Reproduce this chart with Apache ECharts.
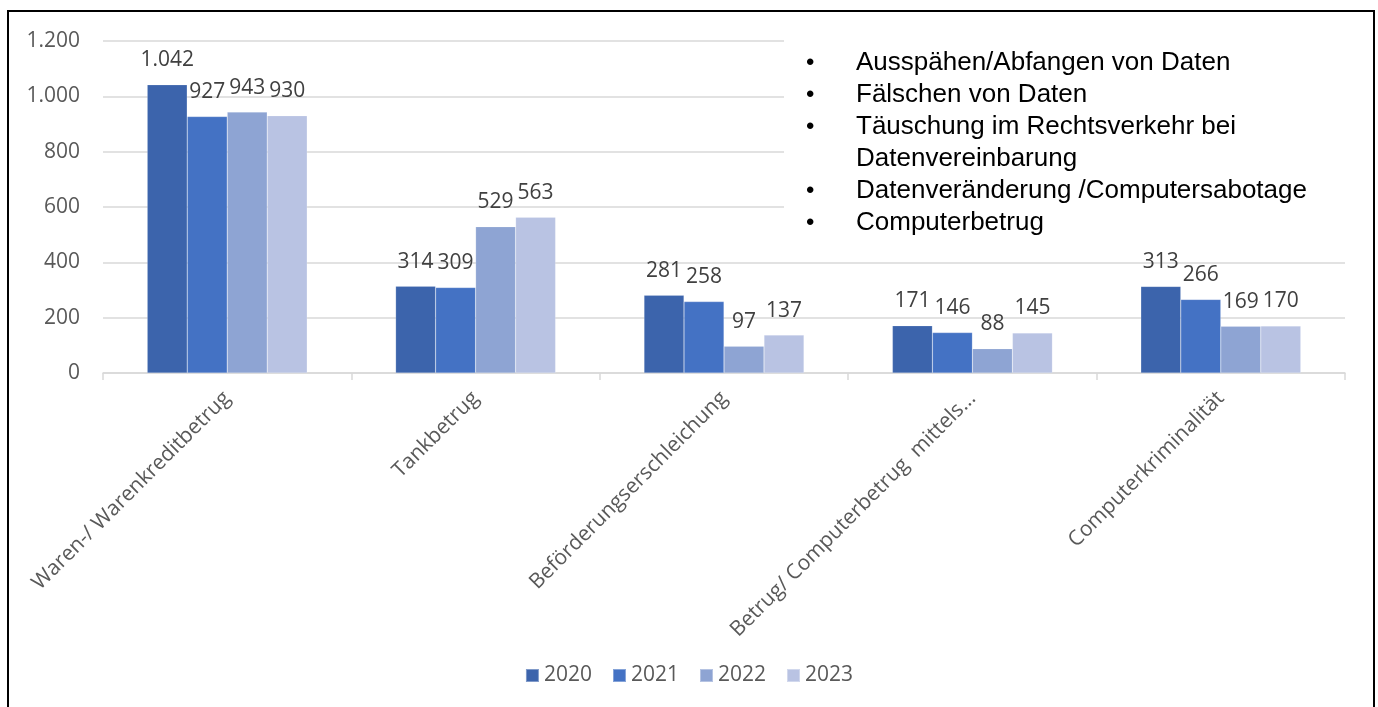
<!DOCTYPE html>
<html>
<head>
<meta charset="utf-8">
<script src="https://cdn.jsdelivr.net/npm/echarts@6/dist/echarts.min.js"></script>
<style>
  body { margin: 0; background: #fff; }
  #chart { width: 1378px; height: 707px; }
</style>
</head>
<body>
<div id="chart"></div>
<script>
  // Daten
  const categories = ['Waren-/ Warenkreditbetrug', 'Tankbetrug', 'Beförderungserschleichung', 'Betrug/ Computerbetrug  mittels...', 'Computerkriminalität']
  const years = ['2020', '2021', '2022', '2023']
  const v2020 = [1042, 314, 281, 171, 313]
  const v2021 = [927, 309, 258, 146, 266]
  const v2022 = [943, 529, 97, 88, 169]
  const v2023 = [930, 563, 137, 145, 170]
  const yTicks = [0, 200, 400, 600, 800, 1000, 1200]
  const bulletLines = [
    { bullet: true, text: 'Ausspähen/Abfangen von Daten' },
    { bullet: true, text: 'Fälschen von Daten' },
    { bullet: true, text: 'Täuschung im Rechtsverkehr bei' },
    { bullet: false, text: 'Datenvereinbarung' },
    { bullet: true, text: 'Datenveränderung /Computersabotage' },
    { bullet: true, text: 'Computerbetrug' }
  ]

  const colors = ['#3C64AC', '#4472C4', '#8EA4D3', '#B9C3E3']
  const values = [v2020, v2021, v2022, v2023]

  // Tausendertrennzeichen mit Punkt
  function fmt(n) {
    return String(n).replace(/\B(?=(\d{3})+(?!\d))/g, '.')
  }

  let chart = echarts.init(document.getElementById('chart'))

  let graphics = [
    { // Rahmen
      type: 'rect',
      shape: { x: 8, y: 11, width: 1366, height: 710 },
      style: { fill: 'none', stroke: '#000', lineWidth: 2 },
      z: 100
    },
    { // Textfeld-Hintergrund
      type: 'rect',
      shape: { x: 784, y: 36, width: 562, height: 210 },
      style: { fill: '#fff' },
      z: 50
    }
  ]
  bulletLines.forEach(function (line, i) {
    let y = 63 + i * 32
    if (line.bullet) {
      graphics.push({
        type: 'text', x: 806, y: y, z: 60,
        style: { text: '•', font: '24px "Liberation Sans", Arial', fill: '#000', verticalAlign: 'middle' }
      })
    }
    graphics.push({
      type: 'text', x: 856, y: y, z: 60,
      style: { text: line.text, font: '26px "Liberation Sans", Arial', fill: '#000', verticalAlign: 'middle' }
    })
  })

  let option = {
    animation: false,
    color: colors,
    grid: { left: 103, right: 33, top: 41, bottom: 334, containLabel: false },
    legend: {
      bottom: 16,
      left: 'center',
      itemWidth: 13,
      itemHeight: 13,
      itemGap: 20,
      icon: 'rect',
      selectedMode: false,
      textStyle: { fontFamily: 'Open Sans', fontSize: 21, color: '#595959' },
      data: years
    },
    xAxis: {
      type: 'category',
      data: categories,
      axisLine: { lineStyle: { color: '#D9D9D9', width: 1.5 } },
      axisTick: { show: true, length: 7, lineStyle: { color: '#D9D9D9', width: 1.5 } },
      axisLabel: {
        interval: 0,
        rotate: 45,
        margin: 22,
        fontFamily: 'Open Sans',
        fontSize: 21,
        color: '#595959'
      }
    },
    yAxis: {
      type: 'value',
      min: yTicks[0],
      max: yTicks[yTicks.length - 1],
      interval: 200,
      axisLine: { show: false },
      axisTick: { show: false },
      splitLine: { lineStyle: { color: '#D9D9D9', width: 1.5 } },
      axisLabel: {
        margin: 23,
        fontFamily: 'Open Sans',
        fontSize: 21,
        color: '#595959',
        formatter: fmt
      }
    },
    series: years.map(function (y, i) {
      return {
        name: y,
        type: 'bar',
        barWidth: 40,
        barGap: '0%',
        data: values[i],
        itemStyle: { color: colors[i], borderColor: 'rgba(255,255,255,0.35)', borderWidth: 0.5 },
        label: {
          show: true,
          position: 'top',
          distance: 14,
          fontFamily: 'Open Sans',
          fontSize: 21,
          color: '#404040',
          formatter: function (p) { return fmt(p.value) }
        }
      }
    }),
    graphic: graphics
  }
  chart.setOption(option)
</script>
</body>
</html>
